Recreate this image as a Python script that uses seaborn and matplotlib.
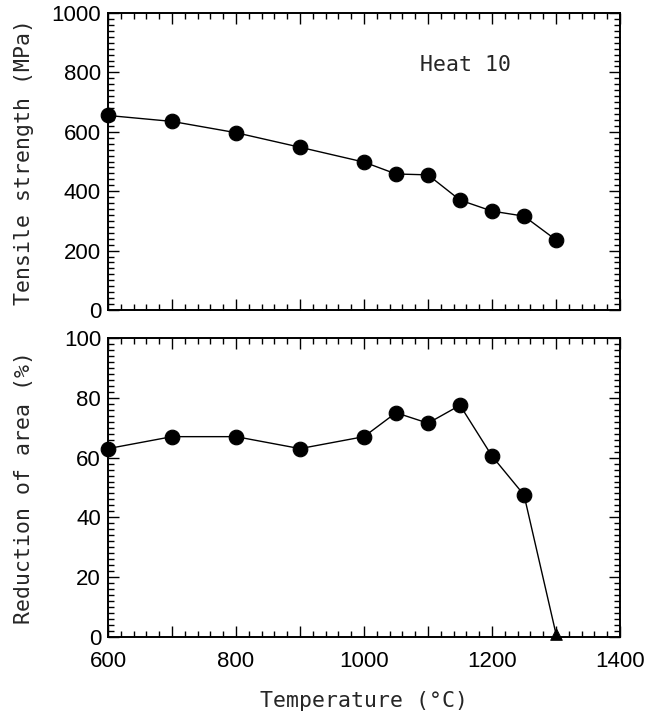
import matplotlib
matplotlib.use("Agg")
import matplotlib.pyplot as plt
import seaborn as sns
import pandas as pd
from matplotlib.ticker import MultipleLocator, FuncFormatter

# ---- data ----
temperature = [600, 700, 800, 900, 1000, 1050, 1100, 1150, 1200, 1250, 1300]
tensile_strength = [655, 635, 597, 548, 498, 458, 455, 370, 333, 316, 236]
reduction_of_area = [63, 67, 67, 63, 67, 75, 71.5, 77.5, 60.5, 47.5, 1]
ra_marker = ["o", "o", "o", "o", "o", "o", "o", "o", "o", "o", "^"]

x_ticks = [600, 800, 1000, 1200, 1400]
ts_ticks = [0, 200, 400, 600, 800, 1000]
ra_ticks = [0, 20, 40, 60, 80, 100]

sns.set_theme(style="ticks")
plt.rcParams["font.family"] = ["Liberation Sans", "DejaVu Sans"]

df_ts = pd.DataFrame({"T": temperature, "v": tensile_strength})
df_ra = pd.DataFrame({"T": temperature, "v": reduction_of_area, "m": ra_marker})

fig = plt.figure(figsize=(6.61, 7.27), dpi=100)
ax1 = fig.add_axes([0.1634, 0.5736, 0.7746, 0.4085])
ax2 = fig.add_axes([0.1634, 0.1238, 0.7746, 0.4113])

label_font = dict(family=["DejaVu Sans Mono", "DejaVu Sans"], fontsize=15.5)

# top panel
sns.lineplot(data=df_ts, x="T", y="v", ax=ax1, color="black", lw=1.0, sort=False)
sns.scatterplot(data=df_ts, x="T", y="v", ax=ax1, color="black", s=110,
                edgecolor="black", zorder=5, clip_on=False)
ax1.set_ylim(0, 1000)
ax1.set_yticks(ts_ticks)
ax1.yaxis.set_minor_locator(MultipleLocator(20))
ax1.set_ylabel("Tensile strength (MPa)", **label_font)
ax1.set_xlabel("")
ax1.text(1158, 825, "Heat 10", ha="center", va="center", **label_font)

# bottom panel
sns.lineplot(data=df_ra, x="T", y="v", ax=ax2, color="black", lw=1.0, sort=False)
df_c = df_ra[df_ra["m"] == "o"]
df_t = df_ra[df_ra["m"] == "^"]
sns.scatterplot(data=df_c, x="T", y="v", ax=ax2, color="black", s=110,
                edgecolor="black", zorder=5, clip_on=False)
sns.scatterplot(data=df_t, x="T", y="v", ax=ax2, color="black", s=70, marker="^",
                edgecolor="black", zorder=5, clip_on=False)
ax2.set_ylim(0, 100)
ax2.set_yticks(ra_ticks)
ax2.yaxis.set_minor_locator(MultipleLocator(2))
ax2.set_ylabel("Reduction of area (%)", **label_font)
ax2.set_xlabel("Temperature (°C)", **label_font, labelpad=14)

for ax in (ax1, ax2):
    ax.set_xlim(600, 1400)
    ax.xaxis.set_major_locator(MultipleLocator(100))
    ax.xaxis.set_major_formatter(FuncFormatter(lambda v, p: f"{int(v)}" if int(v) % 200 == 0 else ""))
    ax.xaxis.set_minor_locator(MultipleLocator(20))
    ax.tick_params(which="both", direction="in", top=True, right=True,
                   colors="black", width=1.0, labelsize=16)
    ax.tick_params(which="major", length=8)
    ax.tick_params(which="minor", length=4)
    for s in ax.spines.values():
        s.set_linewidth(1.4)
        s.set_color("black")
    ax.set_facecolor("white")
    ax.yaxis.set_label_coords(-0.145, 0.5)

ax1.tick_params(axis="x", labelbottom=False)
ax2.tick_params(axis="x", pad=10)
ax1.tick_params(axis="y", pad=5)
ax2.tick_params(axis="y", pad=5)

fig.savefig("out.png", dpi=100, facecolor="white")
